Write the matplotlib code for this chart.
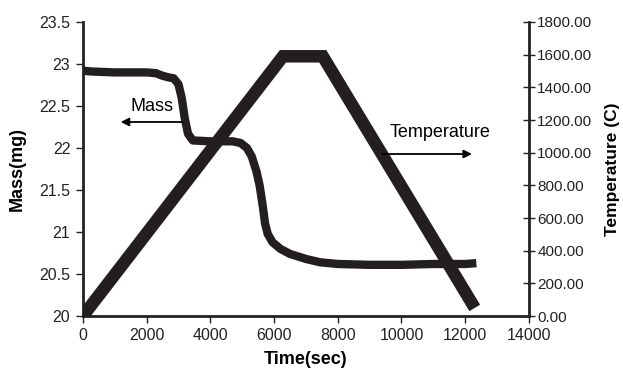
import matplotlib
matplotlib.use("Agg")
import matplotlib.pyplot as plt

# Data
time_mass = [0, 300, 1000, 2000, 2300, 2500, 2700, 2850, 3000, 3100, 3200, 3300, 3450,
             4000, 4700, 4950, 5150, 5300, 5450, 5550, 5650, 5720, 5800, 5950, 6200,
             6500, 7000, 7450, 8000, 9000, 10000, 11000, 12000, 12350]
mass = [22.92, 22.91, 22.90, 22.90, 22.89, 22.86, 22.84, 22.83, 22.76, 22.60, 22.35,
        22.17, 22.09, 22.08, 22.08, 22.06, 22.00, 21.90, 21.72, 21.55, 21.30, 21.10,
        20.98, 20.88, 20.80, 20.74, 20.68, 20.64, 20.62, 20.61, 20.61, 20.62, 20.62, 20.63]

time_temp = [0, 6280, 7530, 12300]
temp = [0, 1590, 1590, 50]

xticks = [0, 2000, 4000, 6000, 8000, 10000, 12000, 14000]
mass_ticks = [20, 20.5, 21, 21.5, 22, 22.5, 23, 23.5]
mass_labels = ["20", "20.5", "21", "21.5", "22", "22.5", "23", "23.5"]
temp_ticks = [0, 200, 400, 600, 800, 1000, 1200, 1400, 1600, 1800]
temp_labels = ["%.2f" % v for v in temp_ticks]

plt.rcParams['font.family'] = ['Liberation Sans', 'DejaVu Sans']

fig = plt.figure(figsize=(6.23, 3.79), dpi=100)
ax = fig.add_axes([0.133, 0.166, 0.716, 0.776])
ax2 = ax.twinx()

line_color = '#231f20'
ax.plot(time_mass, mass, color=line_color, lw=6.0, solid_joinstyle='round', solid_capstyle='butt', zorder=3)
ax2.plot(time_temp, temp, color=line_color, lw=9.0, solid_joinstyle='miter', solid_capstyle='butt', zorder=3)

ax.set_xlim(0, 14000)
ax.set_ylim(20, 23.5)
ax2.set_ylim(0, 1800)

ax.set_xticks(xticks)
ax.set_xticklabels([str(v) for v in xticks])
ax.set_yticks(mass_ticks)
ax.set_yticklabels(mass_labels)
ax2.set_yticks(temp_ticks)
ax2.set_yticklabels(temp_labels)

for a in (ax, ax2):
    a.spines['top'].set_visible(False)
    for s in a.spines.values():
        s.set_linewidth(2)
        s.set_color('#222222')
ax.spines['right'].set_visible(False)
ax2.spines['left'].set_visible(False)
ax2.spines['bottom'].set_visible(False)

ax.tick_params(axis='both', labelsize=11.5, width=1, length=5, direction='out', colors='#222222')
ax.tick_params(axis='y', pad=4)
ax2.tick_params(axis='y', labelsize=11, width=1, length=8, direction='inout', pad=2, colors='#222222')

ax.set_xlabel("Time(sec)", fontsize=13, fontweight='bold', labelpad=6)
ax.set_ylabel("Mass(mg)", fontsize=13, fontweight='bold', labelpad=10)
fig.text(0.983, 0.553, "Temperature (C)", fontsize=12.5, fontweight='bold',
         rotation=90, ha='center', va='center')

ax.annotate("", xy=(1100, 22.31), xytext=(3200, 22.31),
            arrowprops=dict(arrowstyle='-|>', color='black', lw=1.3, mutation_scale=12), zorder=4)
ax.text(2170, 22.49, "Mass", fontsize=13, ha='center', va='center')
ax2.annotate("", xy=(12300, 992), xytext=(9300, 992),
             arrowprops=dict(arrowstyle='-|>', color='black', lw=1.3, mutation_scale=12), zorder=4)
ax2.text(11200, 1125, "Temperature", fontsize=13, ha='center', va='center')

fig.savefig("out.png", dpi=100)
